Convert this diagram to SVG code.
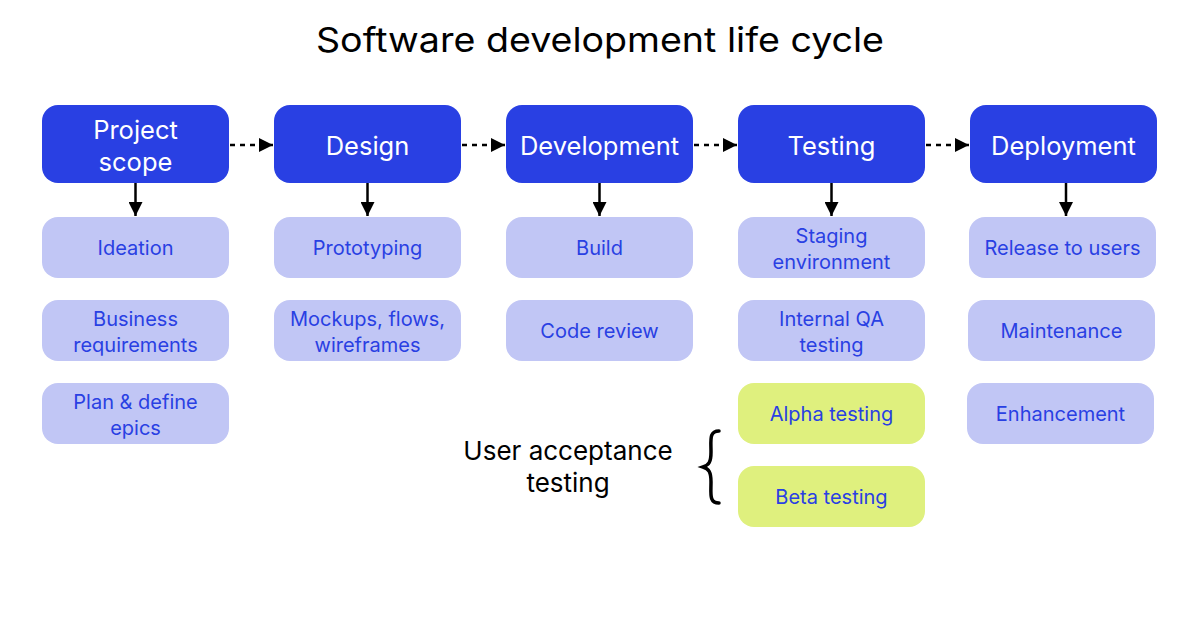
<svg xmlns="http://www.w3.org/2000/svg" width="1200" height="630" viewBox="0 0 1200 630">
<defs>
<marker id="ah" viewBox="0 0 10 10" refX="10" refY="5" markerWidth="14" markerHeight="14" markerUnits="userSpaceOnUse" orient="auto">
<path d="M0,0 L10,5 L0,10 z" fill="#000"/>
</marker>
<style>
.hd{fill:#2940E3}
.sb{fill:#C1C6F5}
.gr{fill:#DFF07E}
.ht{font-family:Inter,"Liberation Sans",sans-serif;font-size:25.5px;fill:#fff;text-anchor:middle}
.st{font-family:Inter,"Liberation Sans",sans-serif;font-size:20px;fill:#2940E3;text-anchor:middle}
.bt{font-family:Inter,"Liberation Sans",sans-serif;font-size:26px;fill:#000;text-anchor:middle}
.dash{stroke:#000;stroke-width:2.5;stroke-dasharray:5 5;fill:none}
.sol{stroke:#000;stroke-width:2.5;fill:none}
</style>
</defs>
<rect width="1200" height="630" fill="#fff"/>
<text x="600" y="52" font-family="Inter,'Liberation Sans',sans-serif" font-size="34" text-anchor="middle" fill="#000" textLength="568" lengthAdjust="spacingAndGlyphs">Software development life cycle</text>

<g id="project-scope"><rect class="hd" x="42" y="105" width="187" height="78" rx="16"/><text class="ht" x="135.5" y="139">Project</text><text class="ht" x="135.5" y="171">scope</text></g>
<g id="design"><rect class="hd" x="274" y="105" width="187" height="78" rx="16"/><text class="ht" x="367.5" y="155">Design</text></g>
<g id="development"><rect class="hd" x="506" y="105" width="187" height="78" rx="16"/><text class="ht" x="599.5" y="155">Development</text></g>
<g id="testing"><rect class="hd" x="738" y="105" width="187" height="78" rx="16"/><text class="ht" x="831.5" y="155">Testing</text></g>
<g id="deployment"><rect class="hd" x="970" y="105" width="187" height="78" rx="16"/><text class="ht" x="1063.5" y="155">Deployment</text></g>

<g id="ideation"><rect class="sb" x="42" y="217" width="187" height="61" rx="16"/><text class="st" x="135.5" y="255">Ideation</text></g>
<g id="business-requirements"><rect class="sb" x="42" y="300" width="187" height="61" rx="16"/><text class="st" x="135.5" y="326">Business</text><text class="st" x="135.5" y="352">requirements</text></g>
<g id="plan-define-epics"><rect class="sb" x="42" y="383" width="187" height="61" rx="16"/><text class="st" x="135.5" y="409">Plan &amp; define</text><text class="st" x="135.5" y="435">epics</text></g>

<g id="prototyping"><rect class="sb" x="274" y="217" width="187" height="61" rx="16"/><text class="st" x="367.5" y="255">Prototyping</text></g>
<g id="mockups"><rect class="sb" x="274" y="300" width="187" height="61" rx="16"/><text class="st" x="367.5" y="326">Mockups, flows,</text><text class="st" x="367.5" y="352">wireframes</text></g>

<g id="build"><rect class="sb" x="506" y="217" width="187" height="61" rx="16"/><text class="st" x="599.5" y="255">Build</text></g>
<g id="code-review"><rect class="sb" x="506" y="300" width="187" height="61" rx="16"/><text class="st" x="599.5" y="338">Code review</text></g>

<g id="staging"><rect class="sb" x="738" y="217" width="187" height="61" rx="16"/><text class="st" x="831.5" y="243">Staging</text><text class="st" x="831.5" y="269">environment</text></g>
<g id="internal-qa"><rect class="sb" x="738" y="300" width="187" height="61" rx="16"/><text class="st" x="831.5" y="326">Internal QA</text><text class="st" x="831.5" y="352">testing</text></g>
<g id="alpha"><rect class="gr" x="738" y="383" width="187" height="61" rx="16"/><text class="st" x="831.5" y="421">Alpha testing</text></g>
<g id="beta"><rect class="gr" x="738" y="466" width="187" height="61" rx="16"/><text class="st" x="831.5" y="504">Beta testing</text></g>

<g id="release"><rect class="sb" x="969" y="217" width="187" height="61" rx="16"/><text class="st" x="1062.5" y="255">Release to users</text></g>
<g id="maintenance"><rect class="sb" x="968" y="300" width="187" height="61" rx="16"/><text class="st" x="1061.5" y="338">Maintenance</text></g>
<g id="enhancement"><rect class="sb" x="967" y="383" width="187" height="61" rx="16"/><text class="st" x="1060.5" y="421">Enhancement</text></g>

<g id="uat-label"><text class="bt" x="568" y="460">User acceptance</text><text class="bt" x="568" y="492">testing</text>
<path d="M719,431 C709,431 711,440 711,452 C711,462 709,465 703,467 C709,469 711,472 711,482 C711,494 709,503 719,503" fill="none" stroke="#000" stroke-width="3.5" stroke-linecap="round"/></g>

<g id="connectors">
<path class="dash" d="M230,145 L273,145" marker-end="url(#ah)"/>
<path class="dash" d="M462,145 L505,145" marker-end="url(#ah)"/>
<path class="dash" d="M694,145 L737,145" marker-end="url(#ah)"/>
<path class="dash" d="M926,145 L969,145" marker-end="url(#ah)"/>
<path class="sol" d="M135.5,183 L135.5,216" marker-end="url(#ah)"/>
<path class="sol" d="M367.5,183 L367.5,216" marker-end="url(#ah)"/>
<path class="sol" d="M599.5,183 L599.5,216" marker-end="url(#ah)"/>
<path class="sol" d="M831.5,183 L831.5,216" marker-end="url(#ah)"/>
<path class="sol" d="M1066,183 L1066,216" marker-end="url(#ah)"/>
</g>
</svg>
